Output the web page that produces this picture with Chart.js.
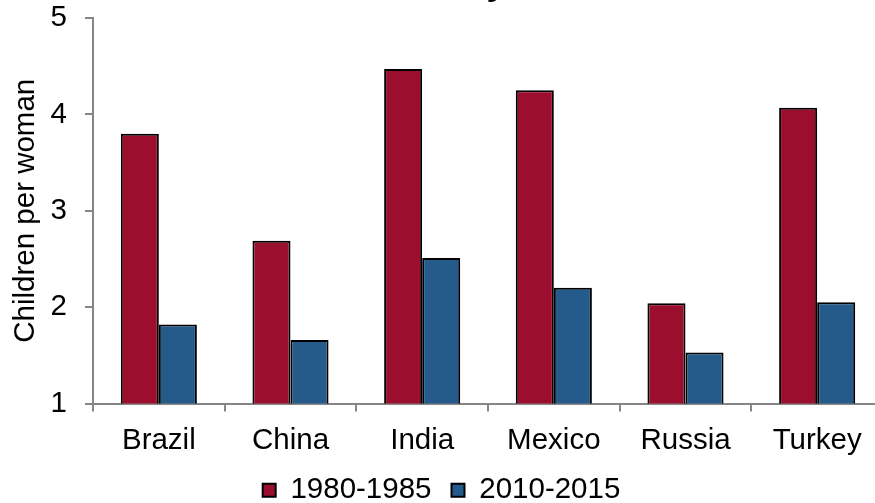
<!DOCTYPE html>
<html>
<head>
<meta charset="utf-8">
<script src="https://cdn.jsdelivr.net/npm/chart.js@4.4.1/dist/chart.umd.min.js"></script>
<style>
  html, body { margin: 0; padding: 0; background: #ffffff; }
  #frame { position: relative; width: 875px; height: 503px; overflow: hidden; background: #ffffff; }
  #holder { position: absolute; left: 0; top: -38px; width: 900px; height: 553px; }
</style>
</head>
<body>
<div id="frame">
  <div id="holder"><canvas id="chart" width="900" height="553"></canvas></div>
</div>
<script>
// Total fertility rate, children per woman
const countries = ['Brazil', 'China', 'India', 'Mexico', 'Russia', 'Turkey'];
const period1Label = '1980-1985';
const period2Label = '2010-2015';
const period1Values = [3.80, 2.69, 4.47, 4.25, 2.04, 4.07];
const period2Values = [1.82, 1.66, 2.51, 2.20, 1.53, 2.05];
const yTickValues = [1, 2, 3, 4, 5];

const FONT = 'Liberation Sans, Arial, Helvetica, sans-serif';
const AXIS_GREY = '#868686';
const TEXT_SIZE = 29.5;

new Chart(document.getElementById('chart'), {
  type: 'bar',
  data: {
    labels: countries,
    datasets: [
      {
        label: period1Label,
        data: period1Values,
        backgroundColor: '#9b0e2d',
        borderColor: '#000000',
        borderWidth: 2
      },
      {
        label: period2Label,
        data: period2Values,
        backgroundColor: '#245b8a',
        borderColor: '#000000',
        borderWidth: 2
      }
    ]
  },
  options: {
    responsive: false,
    animation: false,
    devicePixelRatio: 1,
    layout: { padding: { left: 0, right: 17, top: 0, bottom: 0 } },
    datasets: {
      bar: { categoryPercentage: 0.578, barPercentage: 1.0 }
    },
    plugins: {
      title: {
        display: true,
        text: 'Fertility',
        color: '#000000',
        font: { family: FONT, size: 36, weight: 'bold' },
        padding: { top: 0, bottom: 12.8 }
      },
      legend: {
        position: 'bottom',
        labels: {
          color: '#000000',
          font: { family: FONT, size: TEXT_SIZE },
          boxWidth: 13,
          boxHeight: 13,
          padding: 20
        }
      },
      tooltip: { enabled: false }
    },
    scales: {
      x: {
        afterFit: (scale) => { scale.height = 52; },
        grid: {
          display: true,
          drawOnChartArea: false,
          drawTicks: true,
          tickLength: 8,
          color: AXIS_GREY,
          lineWidth: 2,
          offset: true
        },
        border: { display: true, color: AXIS_GREY, width: 2 },
        ticks: {
          color: '#000000',
          font: { family: FONT, size: TEXT_SIZE },
          padding: 12,
          maxRotation: 0
        }
      },
      y: {
        min: 1,
        max: 5,
        afterBuildTicks: (axis) => { axis.ticks = yTickValues.map(v => ({ value: v })); },
        afterFit: (scale) => { scale.width = 93; },
        grid: {
          display: true,
          drawOnChartArea: false,
          drawTicks: true,
          tickLength: 8,
          color: AXIS_GREY,
          lineWidth: 2
        },
        border: { display: true, color: AXIS_GREY, width: 2 },
        ticks: {
          color: '#000000',
          font: { family: FONT, size: TEXT_SIZE },
          padding: 18
        },
        title: {
          display: true,
          text: 'Children per woman',
          color: '#000000',
          font: { family: FONT, size: TEXT_SIZE },
          padding: { top: 8, bottom: 0 }
        }
      }
    }
  }
});
</script>
</body>
</html>
